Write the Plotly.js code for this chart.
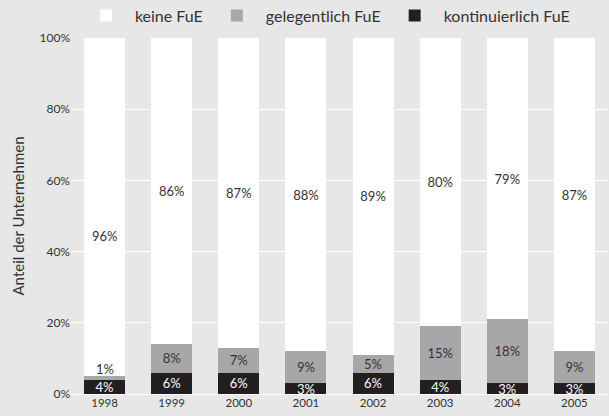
<!DOCTYPE html>
<html>
<head>
<meta charset="utf-8">
<script src="https://cdn.plot.ly/plotly-3.0.1.min.js"></script>
<style>html,body{margin:0;padding:0;background:#e7e7e8;}#chart{width:609px;height:416px;}</style>
</head>
<body>
<div id="chart"></div>
<script>
const years = ['1998','1999','2000','2001','2002','2003','2004','2005'];
const kontinuierlich = [4, 6, 6, 3, 6, 4, 3, 3];
const gelegentlich = [1, 8, 7, 9, 5, 15, 18, 9];
const keineLabels = [96, 86, 87, 88, 89, 80, 79, 87];
const keineHeights = [95, 86, 87, 88, 89, 81, 79, 88];
const yTicks = [0, 20, 40, 60, 80, 100];

const font = 'Lato, "Open Sans", sans-serif';
const txt = '#333333';

const common = {type: 'bar', textposition: 'inside', insidetextanchor: 'middle', constraintext: 'none',
                cliponaxis: false, hoverinfo: 'none'};

const traces = [
  Object.assign({}, common, {
    name: 'kontinuierlich FuE', x: years, y: kontinuierlich,
    marker: {color: '#231f20'},
    text: kontinuierlich.map(v => v + '%'),
    textfont: {color: '#ffffff', size: 13, family: font}
  }),
  Object.assign({}, common, {
    name: 'gelegentlich FuE', x: years, y: gelegentlich,
    marker: {color: '#a7a7a9'},
    text: gelegentlich.map((v, i) => i === 0 ? '' : v + '%'),
    textfont: {color: txt, size: 13, family: font}
  }),
  Object.assign({}, common, {
    name: 'keine FuE', x: years, y: keineHeights,
    marker: {color: '#ffffff'},
    text: keineLabels.map((v, i) => i === 0 ? '' : v + '%'),
    textfont: {color: txt, size: 13, family: font}
  })
];

const annotations = [
  {x: 0, y: kontinuierlich[0] + gelegentlich[0], text: gelegentlich[0] + '%', showarrow: false,
   yanchor: 'bottom', yshift: -3, font: {color: txt, size: 13, family: font}},
  {x: 0, y: kontinuierlich[0] + gelegentlich[0] + keineHeights[0] / 2, text: keineLabels[0] + '%', showarrow: false,
   yanchor: 'middle', yshift: -29, font: {color: txt, size: 13, family: font}}
];

const layout = {
  width: 609, height: 416,
  margin: {l: 71, r: 1, t: 38, b: 22, autoexpand: false},
  paper_bgcolor: '#e7e7e8', plot_bgcolor: '#e7e7e8',
  barmode: 'stack', bargap: 0.39,
  font: {family: font, color: txt, size: 11},
  showlegend: true,
  legend: {orientation: 'h', x: 0.011, xanchor: 'left', y: 1.015, yanchor: 'bottom',
           traceorder: 'reversed', font: {size: 16, family: font, color: txt}, itemgap: 27, itemwidth: 48,
           bgcolor: 'rgba(0,0,0,0)'},
  xaxis: {type: 'category', categoryarray: years, range: [-0.5, years.length - 0.5],
          showgrid: false, zeroline: false, showline: false, ticks: '',
          tickfont: {size: 11.5, color: txt}, fixedrange: true},
  yaxis: {range: [0, 100], tickvals: yTicks, ticktext: yTicks.map(v => v + '%'),
          showgrid: true, gridcolor: '#ffffff', gridwidth: 1, zeroline: true, zerolinecolor: '#ffffff',
          showline: false, ticks: '', tickfont: {size: 12, color: txt},
          title: {text: 'Anteil der Unternehmen', font: {size: 15, color: txt}, standoff: 11}},
  annotations: annotations
};

Plotly.newPlot('chart', traces, layout, {displayModeBar: false, staticPlot: true});
</script>
</body>
</html>
